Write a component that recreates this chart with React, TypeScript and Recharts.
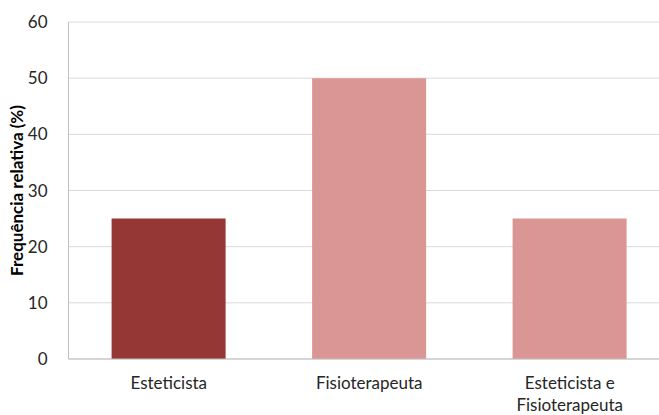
import React from "react";
import { BarChart, Bar, XAxis, YAxis, CartesianGrid, Cell, Text } from "recharts";

const categories = ["Esteticista", "Fisioterapeuta", "Esteticista e Fisioterapeuta"];
const frequencies = [25, 50, 25];
const barColors = ["#953735", "#D99694", "#D99694"];
const yTicks = [0, 10, 20, 30, 40, 50, 60];

const data = categories.map((name, i) => ({ name, value: frequencies[i] }));

const FONT = "Lato, 'Open Sans', sans-serif";

const CategoryTick = (props: any) => {
  const { x, y, payload } = props;
  return (
    <Text
      x={x}
      y={y}
      width={150}
      textAnchor="middle"
      verticalAnchor="start"
      fontFamily={FONT}
      fontSize={17}
      fill="#262626"
      lineHeight={22}
    >
      {payload.value}
    </Text>
  );
};

export default function App() {
  return (
    <div style={{ position: "absolute", left: 0, top: 0, width: 659, height: 415, overflow: "hidden", background: "#fff" }}>
      <BarChart
        width={670}
        height={415}
        data={data}
        margin={{ top: 22, right: 0, bottom: 0, left: 0 }}
        barCategoryGap="21.5%"
      >
        <CartesianGrid vertical={false} stroke="#d9d9d9" strokeWidth={1} />
        <XAxis
          dataKey="name"
          interval={0}
          height={56}
          axisLine={{ stroke: "#bfbfbf" }}
          tickLine={false}
          tickSize={0}
          tickMargin={18}
          tick={<CategoryTick />}
        />
        <YAxis
          width={68.5}
          domain={[0, 60]}
          ticks={yTicks}
          axisLine={{ stroke: "#bfbfbf" }}
          tickLine={false}
          tickSize={0}
          tickMargin={21}
          tick={{ fontFamily: FONT, fontSize: 17, fill: "#262626" }}
          label={{
            value: "Frequência relativa (%)",
            angle: -90,
            position: "insideLeft",
            dx: 12,
            dy: 0,
            style: { fontFamily: FONT, fontSize: 17, fontWeight: 700, fill: "#000", textAnchor: "middle" },
          }}
        />
        <Bar dataKey="value" isAnimationActive={false}>
          {data.map((d, i) => (
            <Cell key={d.name} fill={barColors[i]} />
          ))}
        </Bar>
      </BarChart>
    </div>
  );
}
